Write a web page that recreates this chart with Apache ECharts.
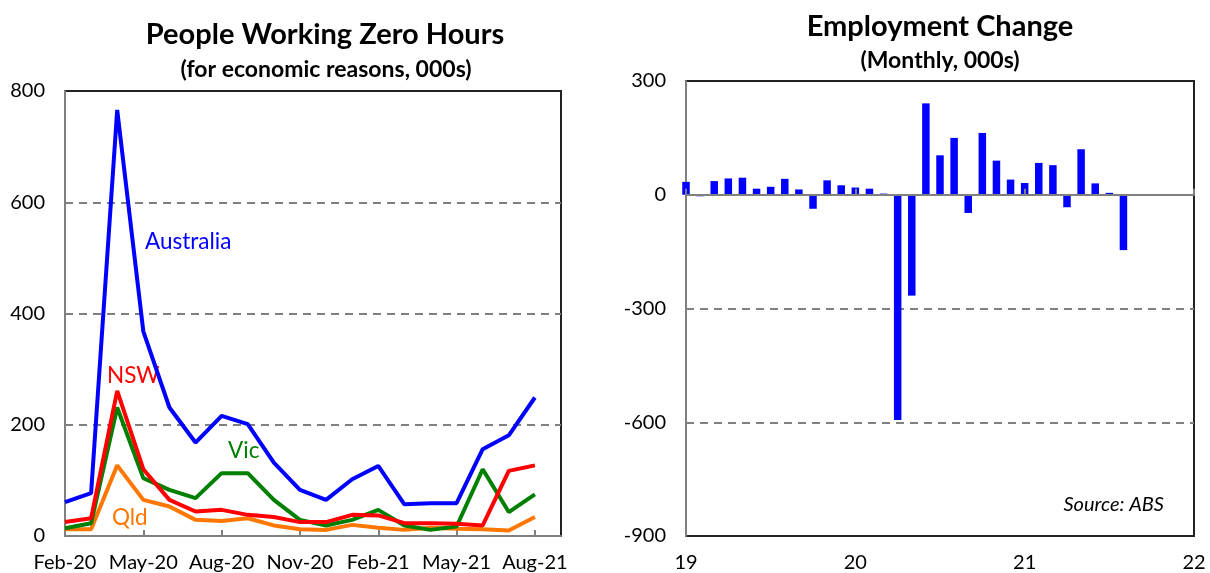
<!DOCTYPE html>
<html>
<head>
<meta charset="utf-8">
<script src="https://cdn.jsdelivr.net/npm/echarts@6/dist/echarts.min.js"></script>
<style>
  html, body { margin: 0; padding: 0; background: #fff; }
  #main { width: 1210px; height: 573px; }
</style>
</head>
<body>
<div id="main"></div>
<script>
// left panel: people working zero hours (000s)
const months = ["Feb-20", "Mar-20", "Apr-20", "May-20", "Jun-20", "Jul-20", "Aug-20", "Sep-20",
  "Oct-20", "Nov-20", "Dec-20", "Jan-21", "Feb-21", "Mar-21", "Apr-21", "May-21", "Jun-21",
  "Jul-21", "Aug-21", "Sep-21"];
const australia = [61, 77, 766, 368, 231, 168, 216, 201, 132, 83, 65, 102, 126, 57, 59, 59, 156, 181, 249];
const nsw = [25, 32, 261, 120, 65, 44, 47, 38, 34, 25, 25, 38, 37, 23, 23, 22, 19, 117, 127];
const vic = [14, 23, 231, 104, 83, 68, 113, 113, 65, 29, 19, 29, 47, 19, 11, 17, 120, 43, 75];
const qld = [12, 12, 127, 65, 53, 29, 27, 32, 19, 12, 11, 20, 15, 11, 15, 13, 12, 10, 34];
const leftTicks = [0, 200, 400, 600, 800];

// right panel: monthly employment change (000s)
const empMonths = ["2019-01", "2019-02", "2019-03", "2019-04", "2019-05", "2019-06", "2019-07", "2019-08",
  "2019-09", "2019-10", "2019-11", "2019-12", "2020-01", "2020-02", "2020-03", "2020-04", "2020-05",
  "2020-06", "2020-07", "2020-08", "2020-09", "2020-10", "2020-11", "2020-12", "2021-01", "2021-02",
  "2021-03", "2021-04", "2021-05", "2021-06", "2021-07", "2021-08"];
const empChange = [34, -4, 36, 43, 45, 16, 21, 42, 14, -37, 38, 25, 19, 16, 3, -594, -266, 241,
  104, 150, -48, 163, 90, 40, 31, 84, 78, -33, 120, 30, 5, -146];
const rightTicks = [-900, -600, -300, 0, 300];
const yearTicks = [19, 20, 21, 22];

const font = "Lato";
const gridLine = { show: true, showMinLine: false, showMaxLine: false,
  lineStyle: { color: "#808080", width: 2, type: [8, 6] } };

// month string -> position on the year axis (19 = Jan 2019)
const empData = empMonths.map(function (m, i) {
  const p = m.split("-");
  return [Number(p[0]) - 2000 + (Number(p[1]) - 1) / 12, empChange[i]];
});

function line(name, data, color) {
  return {
    name: name, type: "line", data: data,
    xAxisIndex: 0, yAxisIndex: 0,
    symbol: "none",
    lineStyle: { color: color, width: 4 },
    itemStyle: { color: color }
  };
}

const chart = echarts.init(document.getElementById("main"));
const option = {
  backgroundColor: "#fff",
  animation: false,
  textStyle: { fontFamily: font },
  title: [
    { text: "People Working Zero Hours", left: 320, top: 15, textAlign: "center",
      textStyle: { fontFamily: font, fontSize: 29, fontWeight: "bold", color: "#000" } },
    { text: "(for economic reasons, 000s)", left: 321, top: 53, textAlign: "center",
      textStyle: { fontFamily: font, fontSize: 23, fontWeight: "bold", color: "#000" } },
    { text: "Employment Change", left: 935, top: 7, textAlign: "center",
      textStyle: { fontFamily: font, fontSize: 29, fontWeight: "bold", color: "#000" } },
    { text: "(Monthly, 000s)", left: 935, top: 44, textAlign: "center",
      textStyle: { fontFamily: font, fontSize: 23, fontWeight: "bold", color: "#000" } }
  ],
  grid: [
    { left: 65, top: 91, width: 496, height: 446, show: true, borderColor: "#222", borderWidth: 2 },
    { left: 686, top: 81, width: 508, height: 456, show: true, borderColor: "#222", borderWidth: 2 }
  ],
  xAxis: [
    {
      gridIndex: 0, type: "category", data: months, boundaryGap: false, position: "bottom",
      axisLine: { lineStyle: { color: "#808080", width: 2 } },
      axisTick: { inside: true, length: 6, interval: 2, lineStyle: { color: "#808080", width: 2 } },
      axisLabel: { interval: 2, fontSize: 20, color: "#000", margin: 17, fontFamily: font },
      splitLine: { show: false }
    },
    {
      // zero line with ticks, no labels
      gridIndex: 1, type: "value", min: 19, max: 22, interval: 1, z: 3, position: "bottom",
      axisLine: { onZero: true, lineStyle: { color: "#808080", width: 2 } },
      axisTick: { inside: true, length: 6, lineStyle: { color: "#808080", width: 2 } },
      axisLabel: { show: false },
      splitLine: { show: false }
    },
    {
      // bottom labels
      gridIndex: 1, type: "value", min: 19, max: 22, interval: 1, position: "bottom",
      axisLine: { onZero: false, show: false },
      axisTick: { show: false },
      axisLabel: { fontSize: 20, color: "#000", margin: 17, fontFamily: font,
        formatter: function (v) { return yearTicks.indexOf(v) >= 0 ? String(v) : ""; } },
      splitLine: { show: false }
    }
  ],
  yAxis: [
    {
      gridIndex: 0, type: "value", min: leftTicks[0], max: leftTicks[leftTicks.length - 1], interval: 200,
      axisLine: { show: true, lineStyle: { color: "#808080", width: 2 } },
      axisTick: { show: false },
      axisLabel: { fontSize: 20, color: "#000", margin: 20, fontFamily: font },
      splitLine: gridLine
    },
    {
      gridIndex: 1, type: "value", min: rightTicks[0], max: rightTicks[rightTicks.length - 1], interval: 300,
      axisLine: { show: true, lineStyle: { color: "#808080", width: 2 } },
      axisTick: { show: false },
      axisLabel: { fontSize: 20, color: "#000", margin: 20, fontFamily: font },
      splitLine: gridLine
    }
  ],
  series: [
    line("Qld", qld, "#ff7700"),
    line("Vic", vic, "#008000"),
    line("NSW", nsw, "#ff0000"),
    line("Australia", australia, "#0000ff"),
    {
      name: "Employment", type: "bar", data: empData,
      xAxisIndex: 1, yAxisIndex: 1,
      barWidth: 7.5,
      itemStyle: { color: "#0000ff" }
    }
  ],
  graphic: [
    { type: "text", left: 145, top: 230, style: { text: "Australia", fill: "#0000ff", font: "22.5px " + font } },
    { type: "text", left: 107, top: 364, style: { text: "NSW", fill: "#ff0000", font: "22.5px " + font } },
    { type: "text", left: 228, top: 439, style: { text: "Vic", fill: "#008000", font: "22.5px " + font } },
    { type: "text", left: 112, top: 506, style: { text: "Qld", fill: "#ff7700", font: "22.5px " + font } },
    { type: "text", right: 46, top: 495, style: { text: "Source: ABS", fill: "#000", font: "italic 20px " + font } }
  ]
};
chart.setOption(option);
</script>
</body>
</html>
